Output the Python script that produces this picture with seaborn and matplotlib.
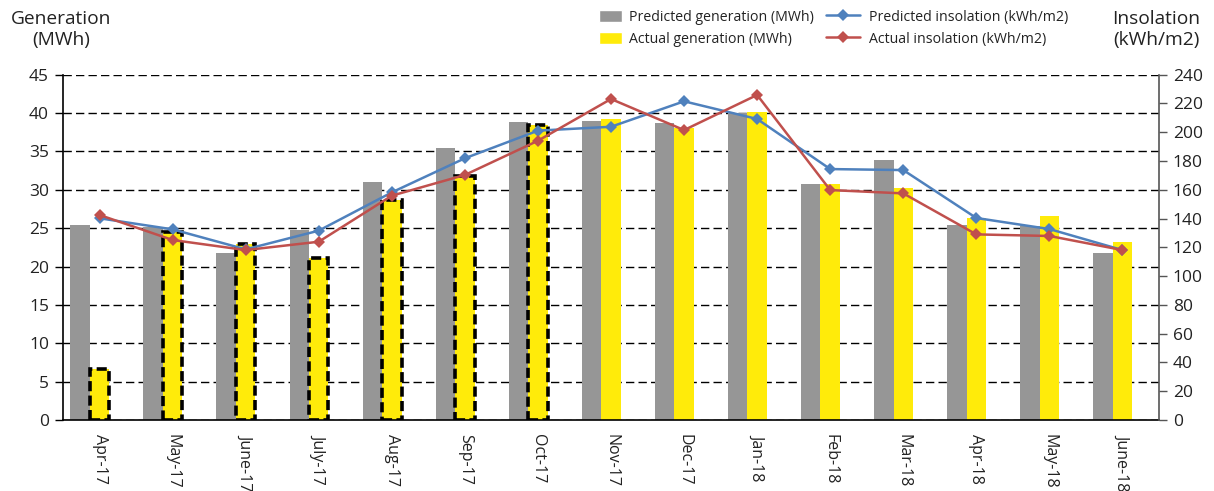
import numpy as np
import pandas as pd
import matplotlib
matplotlib.use("Agg")
import matplotlib.pyplot as plt
import seaborn as sns
from matplotlib.patches import Patch
from matplotlib.lines import Line2D

months = ["Apr-17", "May-17", "June-17", "July-17", "Aug-17", "Sep-17", "Oct-17",
          "Nov-17", "Dec-17", "Jan-18", "Feb-18", "Mar-18", "Apr-18", "May-18", "June-18"]
pred_gen = [25.4, 25.2, 21.8, 24.7, 31.0, 35.5, 38.8, 39.0, 38.7, 40.0, 30.8, 33.9, 25.4, 25.3, 21.8]
act_gen = [6.7, 24.5, 23.0, 21.1, 28.7, 31.8, 38.4, 39.2, 38.0, 40.1, 30.8, 30.2, 26.3, 26.6, 23.2]
pred_ins = [140.2, 132.5, 118.6, 131.6, 158.2, 181.9, 201.1, 203.8, 221.5, 209.2, 174.4, 173.7, 140.4, 132.7, 118.1]
act_ins = [142.5, 125.1, 118.1, 123.9, 155.9, 170.3, 194.1, 223.1, 201.5, 225.9, 159.8, 157.5, 129.0, 127.9, 118.1]
n_dashed = 7  # months with dashed outline on actual generation

PG = "Predicted generation (MWh)"
AG = "Actual generation (MWh)"
PI = "Predicted insolation (kWh/m2)"
AI = "Actual insolation (kWh/m2)"
SPACER = "(empty slot)"

sns.set_theme(style="white")
plt.rcParams["font.family"] = ["Open Sans", "DejaVu Sans"]

gen_df = pd.DataFrame({
    "month": months * 2,
    "value": pred_gen + act_gen,
    "series": [PG] * len(months) + [AG] * len(months),
})
pos = np.arange(len(months))
ins_df = pd.DataFrame({
    "pos": np.concatenate([pos, pos]),
    "value": pred_ins + act_ins,
    "series": [PI] * len(months) + [AI] * len(months),
})

fig = plt.figure(figsize=(12.14, 4.91), dpi=100)
ax = fig.add_axes([0.0519, 0.1446, 0.9028, 0.7033])

sns.barplot(data=gen_df, x="month", y="value", hue="series",
            hue_order=[PG, AG, SPACER], order=months,
            palette={PG: "#969696", AG: "#FFEB0A", SPACER: "white"},
            width=0.8, saturation=1, ax=ax, legend=False, linewidth=0)

# dashed outlines on first actual bars
act_patches = list(ax.patches)[len(months):2 * len(months)]
for i, p in enumerate(act_patches):
    if i < n_dashed:
        p.set_edgecolor("black")
        p.set_linewidth(2.6)
        p.set_linestyle((0, (2.8, 1.2)))

ax.set_ylim(0, 45)
ax.set_yticks(np.arange(0, 46, 5))
ax.set_xlim(-0.5, len(months) - 0.5)
ax.yaxis.grid(True, linestyle=(0, (6, 3)), color="black", linewidth=1.0)
ax.set_axisbelow(True)
ax.set_xlabel("")
ax.set_ylabel("")
ax.tick_params(axis="y", which="both", left=True, length=6, width=1, color="black",
               labelsize=12.5, pad=4, labelcolor="#222222")
ax.tick_params(axis="x", bottom=False, labelsize=11.5, labelcolor="#222222", pad=4)
for lbl in ax.get_xticklabels():
    lbl.set_rotation(270)
for s in ["top", "right"]:
    ax.spines[s].set_visible(False)
for s in ["left", "bottom"]:
    ax.spines[s].set_color("black")
    ax.spines[s].set_linewidth(1.2)

ax2 = ax.twinx()
sns.lineplot(data=ins_df, x="pos", y="value", hue="series",
             palette={PI: "#4F81BD", AI: "#C0504D"},
             marker="D", markersize=6.5, markeredgewidth=0, linewidth=1.8, ax=ax2, legend=False)
ax2.set_ylim(0, 240)
ax2.set_yticks(np.arange(0, 241, 20))
ax2.set_xlim(-0.5, len(months) - 0.5)
ax2.set_ylabel("")
ax2.set_xlabel("")
ax2.tick_params(axis="y", right=True, length=6, width=1, color="#555555",
                labelsize=12.5, pad=4, labelcolor="#222222")
for s in ["top", "left", "bottom"]:
    ax2.spines[s].set_visible(False)
ax2.spines["right"].set_color("#555555")
ax2.spines["right"].set_linewidth(1.2)

fig.text(0.0502, 0.979, "Generation\n(MWh)", ha="center", va="top", fontsize=13.8, color="#222222",
         linespacing=1.17)
fig.text(0.9522, 0.979, "Insolation\n(kWh/m2)", ha="center", va="top", fontsize=13.8, color="#222222",
         linespacing=1.17)

bar_handles = [Patch(facecolor="#969696", label=PG), Patch(facecolor="#FFEB0A", label=AG)]
line_handles = [
    Line2D([0], [0], color="#4F81BD", marker="D", markersize=6.5, markeredgewidth=0, lw=1.8, label=PI),
    Line2D([0], [0], color="#C0504D", marker="D", markersize=6.5, markeredgewidth=0, lw=1.8, label=AI),
]
leg_fs = 10.2
fig.legend(handles=bar_handles, loc="upper left", bbox_to_anchor=(0.4934, 0.980),
           frameon=False, fontsize=leg_fs, handlelength=1.62, handleheight=0.92,
           labelspacing=0.48, handletextpad=0.5, borderpad=0, borderaxespad=0,
           labelcolor="#222222")
fig.legend(handles=line_handles, loc="upper left", bbox_to_anchor=(0.6804, 0.980),
           frameon=False, fontsize=leg_fs, handlelength=2.4, handleheight=0.92,
           labelspacing=0.48, handletextpad=0.63, borderpad=0, borderaxespad=0,
           labelcolor="#222222")

fig.savefig("out.png", dpi=100)
